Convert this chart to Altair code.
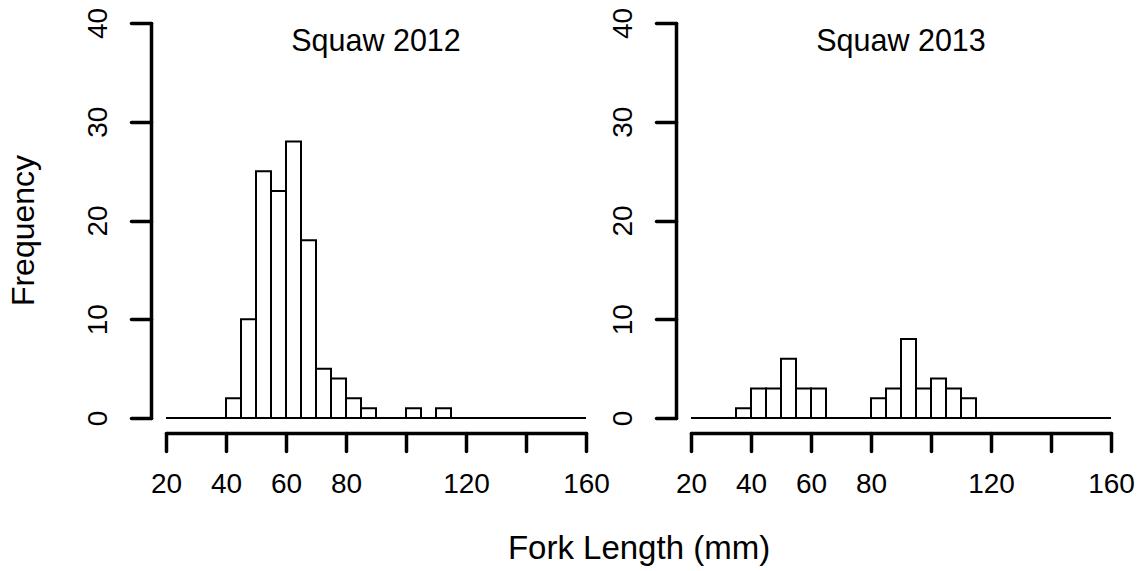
import altair as alt
import pandas as pd

# ---- data (bin width 5 mm, breaks 20..160) ----
bin_starts = list(range(20, 160, 5))
bin_width = 5
counts_2012 = [0, 0, 0, 0, 2, 10, 25, 23, 28, 18, 5, 4, 2, 1, 0, 0, 1, 0, 1,
               0, 0, 0, 0, 0, 0, 0, 0, 0]
counts_2013 = [0, 0, 0, 1, 3, 3, 6, 3, 3, 0, 0, 0, 2, 3, 8, 3, 4, 3, 2,
               0, 0, 0, 0, 0, 0, 0, 0, 0]
panel_titles = ["Squaw 2012", "Squaw 2013"]
x_ticks = [20, 40, 60, 80, 100, 120, 140, 160]
x_hidden_labels = [100, 140]
y_ticks = [0, 10, 20, 30, 40]
x_domain = [20, 160]
y_domain = [0, 40]

FONT = "Liberation Sans"
W, H = 420, 395


def panel(counts, title, first):
    df = pd.DataFrame({
        "start": bin_starts,
        "end": [b + bin_width for b in bin_starts],
        "count": counts,
    })
    hide = " || ".join(f"datum.value == {v}" for v in x_hidden_labels)
    x_axis_kwargs = dict(
        values=x_ticks, offset=15, tickSize=18, tickWidth=3.5, domainWidth=3.5,
        domainColor="black", tickColor="black", domainCap="round", tickCap="round",
        labelFont=FONT, labelFontSize=28, labelColor="black", labelPadding=19,
        labelExpr=f"({hide}) ? '' : datum.label", grid=False, labelFlush=False,
        labelOverlap=False,
    )
    if first:
        x_axis_kwargs.update(
            title="Fork Length (mm)", titleFont=FONT, titleFontSize=33,
            titleFontWeight="normal", titleColor="black", titleX=472.5,
            titleY=125, titleAlign="center", titleBaseline="alphabetic",
        )
    else:
        x_axis_kwargs.update(title=None)
    y_axis_kwargs = dict(
        values=y_ticks, offset=15, tickSize=20, tickWidth=3.5, domainWidth=3.5,
        domainColor="black", tickColor="black", domainCap="round", tickCap="round",
        labelFont=FONT, labelFontSize=28, labelColor="black", labelAngle=270,
        labelAlign="center", labelBaseline="bottom", labelPadding=19, grid=False,
        labelFlush=False, labelOverlap=False,
    )
    if first:
        y_axis_kwargs.update(
            title="Frequency", titleFont=FONT, titleFontSize=32,
            titleFontWeight="normal", titleColor="black", titleAngle=270,
            titleX=-118, titleY=207, titleAlign="center",
            titleBaseline="alphabetic",
        )
    else:
        y_axis_kwargs.update(title=None)

    bars = alt.Chart(df).mark_rect(
        fill="white", stroke="black", strokeWidth=2
    ).encode(
        x=alt.X("start:Q", scale=alt.Scale(domain=x_domain, nice=False, zero=False),
                axis=alt.Axis(**x_axis_kwargs)),
        x2="end:Q",
        y=alt.Y("count:Q", scale=alt.Scale(domain=y_domain, nice=False),
                axis=alt.Axis(**y_axis_kwargs)),
        y2=alt.datum(0),
    )
    label = alt.Chart(pd.DataFrame({"t": [title]})).mark_text(
        font=FONT, fontSize=30.5, color="black", align="center",
        baseline="alphabetic",
    ).encode(x=alt.value(210), y=alt.value(28), text="t:N")
    return alt.layer(bars, label).properties(width=W, height=H)


chart = alt.hconcat(
    panel(counts_2012, panel_titles[0], True),
    panel(counts_2013, panel_titles[1], False),
    spacing=105, bounds="flush",
).properties(
    padding={"left": 7, "top": 7, "right": 5, "bottom": 5},
    background="white",
).configure_view(stroke=None)

chart.save("out.html", embed_options={"renderer": "svg", "actions": False})
